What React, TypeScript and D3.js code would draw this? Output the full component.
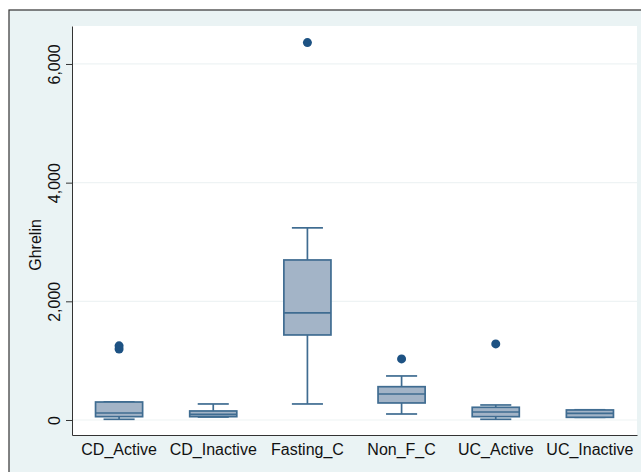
import React, { useEffect, useRef } from "react";
import * as d3 from "d3";

const groups = ["CD_Active", "CD_Inactive", "Fasting_C", "Non_F_C", "UC_Active", "UC_Inactive"];
const lowWhisker = [12, 50, 270, 101, 12, 45];
const q1 = [56, 56, 1433, 287, 56, 45];
const median = [118, 96, 1804, 438, 135, 112];
const q3 = [303, 152, 2697, 561, 214, 169];
const highWhisker = [305, 270, 3238, 742, 253, 172];
const outliers: [string, number][] = [
  ["CD_Active", 1197],
  ["CD_Active", 1250],
  ["Fasting_C", 6360],
  ["Non_F_C", 1029],
  ["UC_Active", 1282],
];
const yTicks = [0, 2000, 4000, 6000];

export default function App() {
  const ref = useRef<SVGSVGElement>(null);

  useEffect(() => {
    const svg = d3.select(ref.current);
    svg.selectAll("*").remove();

    const width = 641, height = 472;
    const left = 72, right = 637, top = 26, bottom = 435;
    const font = "Liberation Sans, Arial, sans-serif";

    // outer panel
    svg.append("rect").attr("x", 0).attr("y", 0).attr("width", width).attr("height", height).attr("fill", "#ffffff");
    svg.append("rect")
      .attr("x", 9).attr("y", 10).attr("width", width).attr("height", height)
      .attr("fill", "#eaf3f4").attr("stroke", "#333").attr("stroke-width", 1.2);
    svg.append("rect")
      .attr("x", left).attr("y", top).attr("width", right - left).attr("height", bottom - top)
      .attr("fill", "#ffffff");

    const x = d3.scaleBand().domain(groups).range([left, right]);
    const y = d3.scaleLinear().domain([-253, 6640]).range([bottom, top]);

    // gridlines
    svg.append("g").selectAll("line").data(yTicks).join("line")
      .attr("x1", left).attr("x2", right)
      .attr("y1", d => y(d)).attr("y2", d => y(d))
      .attr("stroke", "#eef3f4").attr("stroke-width", 1.2);

    // y axis
    const yAxis = svg.append("g")
      .attr("transform", `translate(${left},0)`)
      .call(d3.axisLeft(y).tickValues(yTicks).tickFormat(d3.format(",")).tickSize(6).tickSizeOuter(0));
    yAxis.select(".domain").attr("stroke", "#333");
    yAxis.selectAll(".tick line").attr("stroke", "#333");
    yAxis.selectAll(".tick text")
      .attr("transform", "rotate(-90)")
      .attr("x", 0).attr("y", -12).attr("dy", 0)
      .attr("text-anchor", "middle")
      .attr("font-family", font)
      .attr("font-size", 16).attr("fill", "#111");

    // x axis
    const xAxis = svg.append("g")
      .attr("transform", `translate(0,${bottom})`)
      .call(d3.axisBottom(x).tickSize(0).tickSizeOuter(0));
    xAxis.select(".domain").attr("stroke", "#333");
    xAxis.selectAll(".tick text")
      .attr("y", 9).attr("dy", "0.71em")
      .attr("font-family", font)
      .attr("font-size", 16).attr("fill", "#111");

    svg.append("text")
      .attr("transform", `translate(41,${y(2950)}) rotate(-90)`)
      .attr("text-anchor", "middle")
      .attr("font-family", font)
      .attr("font-size", 16).attr("fill", "#111")
      .text("Ghrelin");

    const stroke = "#3f6c91";
    const bw = x.bandwidth();
    const boxW = bw * 0.5;
    const capW = bw * 0.33;

    const boxes = svg.append("g").selectAll("g").data(groups).join("g")
      .attr("transform", d => `translate(${(x(d) as number) + bw / 2},0)`);

    boxes.append("line")
      .attr("x1", 0).attr("x2", 0)
      .attr("y1", (d, i) => y(highWhisker[i])).attr("y2", (d, i) => y(q3[i]))
      .attr("stroke", stroke).attr("stroke-width", 1.7);
    boxes.append("line")
      .attr("x1", 0).attr("x2", 0)
      .attr("y1", (d, i) => y(lowWhisker[i])).attr("y2", (d, i) => y(q1[i]))
      .attr("stroke", stroke).attr("stroke-width", 1.7);
    boxes.append("line")
      .attr("x1", -capW / 2).attr("x2", capW / 2)
      .attr("y1", (d, i) => y(highWhisker[i])).attr("y2", (d, i) => y(highWhisker[i]))
      .attr("stroke", stroke).attr("stroke-width", 1.7);
    boxes.append("line")
      .attr("x1", -capW / 2).attr("x2", capW / 2)
      .attr("y1", (d, i) => y(lowWhisker[i])).attr("y2", (d, i) => y(lowWhisker[i]))
      .attr("stroke", stroke).attr("stroke-width", 1.7);
    boxes.append("rect")
      .attr("x", -boxW / 2).attr("width", boxW)
      .attr("y", (d, i) => y(q3[i]))
      .attr("height", (d, i) => y(q1[i]) - y(q3[i]))
      .attr("fill", "#a3b4c7").attr("stroke", stroke).attr("stroke-width", 1.7);
    boxes.append("line")
      .attr("x1", -boxW / 2).attr("x2", boxW / 2)
      .attr("y1", (d, i) => y(median[i])).attr("y2", (d, i) => y(median[i]))
      .attr("stroke", stroke).attr("stroke-width", 1.7);

    svg.append("g").selectAll("circle").data(outliers).join("circle")
      .attr("cx", d => (x(d[0]) as number) + bw / 2)
      .attr("cy", d => y(d[1]))
      .attr("r", 4.5)
      .attr("fill", "#1d5283");
  }, []);

  return <svg ref={ref} width={641} height={472} style={{ display: "block", position: "absolute", left: 0, top: 0 }} />;
}
